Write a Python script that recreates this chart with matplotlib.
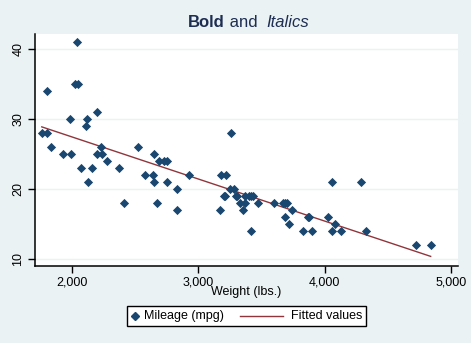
import numpy as np
import matplotlib
matplotlib.use("Agg")
from matplotlib import pyplot as plt
from matplotlib.lines import Line2D
from matplotlib.patches import Rectangle

plt.rcParams['font.family'] = ['Liberation Sans', 'DejaVu Sans']

# 1978 automobile data: curb weight (lbs.) and mileage (mpg)
weight = [2930, 3350, 2640, 3250, 4080, 3670, 2230, 3280, 3880, 3400,
          4330, 3900, 4290, 2110, 3690, 3180, 3220, 2750, 3430, 2120,
          3600, 3870, 3740, 1800, 2650, 4840, 4720, 3830, 2580, 4060,
          3720, 3370, 4130, 2830, 4060, 3310, 3300, 3690, 3370, 2730,
          4030, 3260, 1800, 2200, 2520, 3330, 3700, 3470, 3210, 3200,
          3420, 2690, 2830, 2070, 2650, 2370, 2020, 2280, 2750, 2130,
          2240, 1760, 1980, 3420, 1830, 2050, 2410, 2200, 2670, 2160,
          2040, 1930, 1990, 3170]
mpg = [22, 17, 22, 20, 15, 18, 26, 20, 16, 19,
       14, 14, 21, 29, 16, 22, 22, 24, 19, 30,
       18, 16, 17, 28, 21, 12, 12, 14, 22, 14,
       15, 18, 14, 20, 21, 19, 19, 18, 19, 24,
       16, 28, 34, 25, 26, 18, 18, 18, 19, 19,
       19, 24, 17, 23, 25, 23, 35, 24, 21, 21,
       25, 28, 30, 14, 26, 35, 18, 31, 18, 23,
       41, 25, 25, 17]

x_ticks = [2000, 3000, 4000, 5000]
x_ticklabels = ["2,000", "3,000", "4,000", "5,000"]
y_ticks = [10, 20, 30, 40]

bg = '#EAF2F3'
navy = '#1A476F'
maroon = '#90353B'
W, H = 471, 343
fs = 9

w = np.array(weight, dtype=float)
m = np.array(mpg, dtype=float)
slope, icept = np.polyfit(w, m, 1)
xf = np.array([w.min(), w.max()])
yf = icept + slope * xf

fig = plt.figure(figsize=(W / 100, H / 100), dpi=100, facecolor=bg)
ax = fig.add_axes([0.075, 0.2254, 0.897, 0.6755])
ax.set_facecolor('white')

ax.scatter(w, m, marker='D', s=22, color=navy, linewidths=0, zorder=3)
ax.plot(xf, yf, color=maroon, lw=1.0, zorder=2)

ax.set_xlim(1709, 5055)
ax.set_ylim(9.09, 42.09)
ax.set_xticks(x_ticks)
ax.set_xticklabels(x_ticklabels)
ax.set_yticks(y_ticks)
ax.set_yticklabels([str(v) for v in y_ticks], rotation=90, va='center')
ax.grid(axis='y', color=bg, lw=1.0)
ax.set_axisbelow(True)
for s in ['top', 'right']:
    ax.spines[s].set_visible(False)
for s in ['left', 'bottom']:
    ax.spines[s].set_color('black')
    ax.spines[s].set_linewidth(1.1)
ax.tick_params(axis='both', direction='out', length=5, width=1, colors='black',
               labelsize=fs, labelcolor='black', pad=3)
ax.set_xlabel("Weight (lbs.)", fontsize=fs, labelpad=-2)

# title with mixed weights, pieced together
fig.canvas.draw()
r = fig.canvas.get_renderer()
parts = [("Bold", 'bold', 'normal'), (" and  ", 'normal', 'normal'),
         ("Italics", 'normal', 'italic')]
texts = []
total = 0
for s, st_w, st_s in parts:
    t = fig.text(0, 1 - 22.5 / H, s, fontsize=12, fontweight=st_w, fontstyle=st_s,
                 color='#1E2D53', va='center', ha='left')
    bb = t.get_window_extent(renderer=r)
    texts.append((t, bb.width))
    total += bb.width
x0 = 248.8 - total / 2
for t, wd in texts:
    t.set_x(x0 / W)
    x0 += wd


# legend box drawn in pixel positions of the figure
def fx(px):
    return px / W


def fy(py):
    return 1 - py / H


ly = 316
fig.patches.append(Rectangle((fx(127), fy(326)), fx(366) - fx(127), fy(305.5) - fy(326),
                             transform=fig.transFigure, facecolor='white',
                             edgecolor='black', lw=1.0, zorder=5))
fig.lines.append(Line2D([fx(135)], [fy(ly)], marker='D', ms=3.6, color=navy, lw=0,
                        transform=fig.transFigure, zorder=6))
fig.text(fx(143.5), fy(ly), "Mileage (mpg)", fontsize=fs, va='center', ha='left', zorder=6)
fig.lines.append(Line2D([fx(240), fx(283)], [fy(ly), fy(ly)], color=maroon, lw=1.0,
                        transform=fig.transFigure, zorder=6))
fig.text(fx(291), fy(ly), "Fitted values", fontsize=fs, va='center', ha='left', zorder=6)

fig.savefig("out.png", dpi=100, facecolor=bg)
